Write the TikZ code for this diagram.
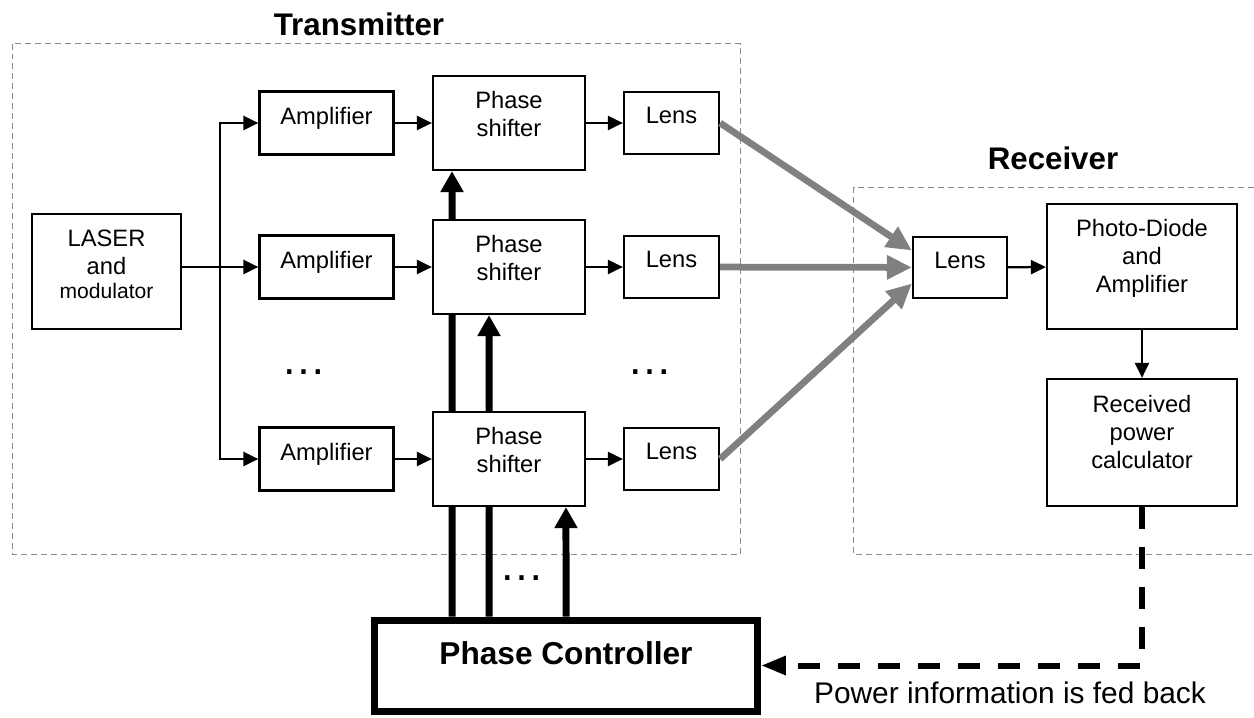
\documentclass[tikz,border=0pt]{standalone}
\usepackage{fontspec}
\setmainfont{Liberation Sans}
\usepackage{tikz}
\usetikzlibrary{arrows.meta,backgrounds}
\usepackage{xcolor}
\definecolor{beamgray}{HTML}{808080}
\definecolor{framegray}{HTML}{8A8A8A}

\begin{document}
\begin{tikzpicture}[x=0.02cm, y=-0.02cm,
    lift/.style={execute at end node={\rule[-#1]{0pt}{#1}}},
    block/.style={draw, line width=0.045cm, fill=white, align=center,
                  font=\fontsize{13.5}{15.9}\selectfont},
    amp/.style={block, minimum width=2.68cm, minimum height=1.26cm, lift=0.3cm},
    shifter/.style={block, minimum width=3.04cm, minimum height=1.88cm, lift=0.36cm},
    lens/.style={block, minimum width=1.9cm, minimum height=1.24cm, lift=0.3cm},
    arr/.style={line width=0.045cm, -{Triangle[length=0.3cm, width=0.28cm]}},
    ctrl/.style={line width=0.14cm, -{Triangle[length=0.42cm, width=0.44cm]}},
    beam/.style={beamgray, line width=0.135cm, -{Triangle[length=0.5cm, width=0.46cm]}},
    feedback/.style={line width=0.12cm, dash pattern=on 0.44cm off 0.36cm,
                     -{Triangle[length=0.5cm, width=0.36cm]}},
    frame/.style={framegray, line width=0.03cm, dash pattern=on 0.12cm off 0.08cm},
    title/.style={font=\fontsize{17.8}{21}\selectfont\bfseries, anchor=base},
    dots/.style={font=\fontsize{25.6}{30}\selectfont, anchor=base, inner sep=0pt}
  ]
  \useasboundingbox (0,0) rectangle (1254,717);

  % transmitter
  \node[title] (txtitle) at (359,35) {Transmitter};
  \node[block, minimum width=2.98cm, minimum height=2.3cm, lift=0.3cm] (laser) at (106.5,271.5)
    {LASER\\and\\[-0.08cm]{\fontsize{12}{14}\selectfont modulator}};

  \node[amp] (amp1) at (326.5,123) {Amplifier};
  \node[amp] (amp2) at (326.5,267) {Amplifier};
  \node[amp] (amp3) at (326.5,459) {Amplifier};
  \node[shifter] (ps1) at (509,123) {Phase\\shifter};
  \node[shifter] (ps2) at (509,267) {Phase\\shifter};
  \node[shifter] (ps3) at (509,459) {Phase\\shifter};
  \node[lens] (tl1) at (671.5,123) {Lens};
  \node[lens] (tl2) at (671.5,267) {Lens};
  \node[lens] (tl3) at (671.5,459) {Lens};

  \node[dots] (dotsl) at (304,374) {…};
  \node[dots] (dotsr) at (650,374) {…};
  \node[dots] (dotsc) at (522,580) {…};

  \coordinate (split) at (220,267);
  \draw[arr] (laser.east |- amp2) -- (amp2);
  \draw[arr] (split) |- (amp1.west);
  \draw[arr] (split) |- (amp3.west);
  \draw[arr] (amp1) -- (ps1);
  \draw[arr] (amp2) -- (ps2);
  \draw[arr] (amp3) -- (ps3);
  \draw[arr] (ps1) -- (tl1);
  \draw[arr] (ps2) -- (tl2);
  \draw[arr] (ps3) -- (tl3);

  % receiver
  \node[title] (rxtitle) at (1053,169) {Receiver};
  \node[lens, minimum width=1.88cm, minimum height=1.22cm] (rlens) at (960,267.5) {Lens};
  \node[block, minimum width=3.8cm, minimum height=2.5cm, lift=0.44cm] (pd) at (1142,266.5)
    {Photo-Diode\\and\\Amplifier};
  \node[block, minimum width=3.8cm, minimum height=2.54cm, lift=0.44cm] (rpc) at (1142,442.5)
    {Received\\power\\calculator};
  \draw[arr] (rlens) -- (pd);
  \draw[arr] (pd) -- (rpc);

  \draw[beam] (tl1.east) -- ([yshift=0.34cm]rlens.west);
  \draw[beam] (tl2) -- (rlens);
  \draw[beam] (tl3.east) -- ([yshift=-0.32cm]rlens.west);

  % controller
  \node[block, line width=0.14cm, minimum width=7.66cm, minimum height=1.82cm, lift=0.5cm,
        font=\fontsize{18}{21}\selectfont\bfseries] (pc) at (566,665.5) {Phase Controller};

  \begin{scope}[on background layer]
    \draw[frame] (12.5,43.5) rectangle (740.5,554.5);
    \draw[frame] (1254,187.5) -- (853.5,187.5) -- (853.5,554.5) -- (1254,554.5);
    \draw[ctrl] ([xshift=-2.28cm]pc.north) -- ([xshift=-1.14cm]ps1.south);
    \draw[ctrl] ([xshift=-1.54cm]pc.north) -- ([xshift=-0.4cm]ps2.south);
    \draw[ctrl] (pc.north) -- ([xshift=1.14cm]ps3.south);
  \end{scope}

  \draw[feedback] (rpc.south) |- (pc.east);
  \node[font=\fontsize{17}{20}\selectfont, anchor=base] (fbtext) at (1010,703)
    {Power information is fed back};
\end{tikzpicture}
\end{document}
